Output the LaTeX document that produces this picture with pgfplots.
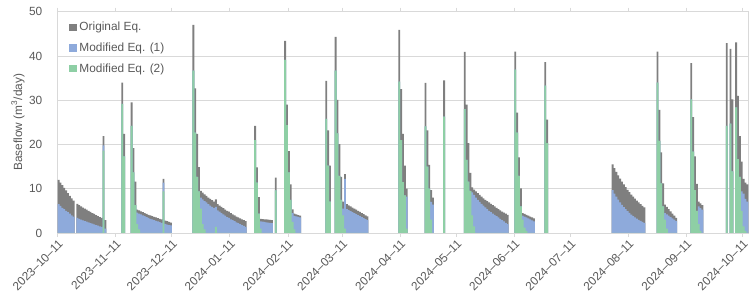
\documentclass[border=0pt]{standalone}
\usepackage{pgfplots}
\pgfplotsset{compat=1.18}
\usepackage{pgfplotstable}
\usepackage{fontspec}
\setmainfont{Liberation Sans}
\definecolor{cgray}{HTML}{7F7F7F}
\definecolor{cblue}{HTML}{8EAADB}
\definecolor{cgreen}{HTML}{8ECFA5}
\definecolor{ctext}{HTML}{595959}
\definecolor{cgrid}{HTML}{D9D9D9}
\pgfplotstableread{
d G B R
0 12.0 6.5 0
1 11.4 6.1 0
2 10.8 5.7 0
3 10.2 5.4 0
4 9.6 5.0 0
5 9.0 4.7 0
6 8.4 4.4 0
7 7.8 4.0 0
8 7.3 3.7 0
10 6.6 3.4 0
11 6.3 3.2 0
12 6.0 3.0 0
13 5.75 2.85 0
14 5.5 2.7 0
15 5.25 2.55 0
16 5.0 2.4 0
17 4.75 2.25 0
18 4.5 2.1 0
19 4.3 1.95 0
20 4.05 1.8 0
21 3.8 1.65 0
22 3.6 1.5 0
23 3.4 1.35 0
24 21.9 19.8 18.6
25 2.9 1.0 0
34 34.0 29.2 29.2
35 22.4 17.3 17.3
39 29.5 24.2 24.2
40 19.2 13.7 13.7
41 11.6 6.3 6.3
42 5.3 4.6 2.0
43 5.1 4.4 0.8
44 4.9 4.2 0
45 4.7 4.0 0
46 4.5 3.8 0
47 4.3 3.6 0
48 4.1 3.4 0
49 3.95 3.2 0
50 3.8 3.05 0
51 3.65 2.9 0
52 3.5 2.75 0
53 3.35 2.6 0
54 3.2 2.45 0
55 3.05 2.3 0
56 12.2 11.4 9.4
57 2.8 2.05 0
58 2.65 1.9 0
59 2.5 1.8 0
60 2.35 1.7 0
72 47.0 36.7 36.7
73 32.7 22.7 22.7
74 22.4 12.7 12.7
75 14.9 9.4 9.4
76 9.5 8.0 5.5
77 9.1 7.6 2.0
78 8.7 7.2 0.8
79 8.4 6.9 0
80 8.0 6.5 0
81 7.7 6.2 0
82 7.4 5.9 0
83 7.1 5.6 0
84 7.6 5.9 1.4
85 6.5 5.1 0
86 6.2 4.8 0
87 5.9 4.5 0
88 5.6 4.2 0
89 5.3 3.9 0
90 5.0 3.6 0
91 4.8 3.4 0
92 4.5 3.1 0
93 4.2 2.9 0
94 4.0 2.7 0
95 3.7 2.4 0
96 3.5 2.2 0
97 3.3 2.0 0
98 3.1 1.8 0
99 2.9 1.6 0
100 2.7 1.4 0
105 24.2 21.0 21.0
106 14.8 11.4 11.4
107 8.1 4.4 4.4
108 3.2 2.6 1.0
109 3.15 2.55 0
110 3.1 2.5 0
111 3.05 2.4 0
112 3.0 2.35 0
113 2.95 2.3 0
114 2.9 2.2 0
116 12.5 9.6 9.6
121 43.4 39.1 39.1
122 29.0 24.4 24.4
123 18.5 13.7 13.7
124 11.0 7.5 7.5
125 5.35 4.5 2.5
126 4.4 3.85 0.8
127 4.2 3.75 0
128 4.05 3.65 0
129 3.9 3.55 0
143 34.4 25.8 25.8
144 23.2 15.2 15.2
145 15.2 7.1 7.1
148 44.3 36.7 36.7
149 30.1 22.5 22.5
150 20.1 12.9 12.9
151 12.7 7.5 7.5
152 7.1 5.5 4.0
153 13.3 12.2 1.0
154 6.5 5.4 0
155 6.25 5.18 0
156 6.0 4.95 0
157 5.75 4.73 0
158 5.5 4.5 0
159 5.25 4.28 0
160 5.0 4.05 0
161 4.75 3.83 0
162 4.5 3.6 0
163 4.25 3.38 0
164 4.0 3.15 0
165 3.75 2.9 0
182 45.9 34.2 34.2
183 32.5 21.0 21.0
184 22.4 11.5 11.5
185 15.2 8.5 8.5
186 10.0 8.2 1.0
196 33.9 24.1 24.1
197 23.2 15.0 15.0
198 15.4 10.0 10.0
199 9.7 7.0 3.0
200 8.0 6.4 0
206 34.5 26.3 26.3
217 40.9 28.0 28.0
218 29.0 16.5 16.5
219 20.3 11.6 11.6
220 13.6 9.5 9.5
221 10.3 9.2 4.0
222 9.8 8.6 1.5
223 9.4 8.0 0
224 9.0 7.5 0
225 8.6 7.0 0
226 8.2 6.6 0
227 7.8 6.2 0
228 7.5 5.8 0
229 7.2 5.4 0
230 6.9 5.0 0
231 6.6 4.7 0
232 6.3 4.4 0
233 6.0 4.1 0
234 5.7 3.8 0
235 5.4 3.5 0
236 5.1 3.2 0
237 4.8 2.9 0
238 4.6 2.6 0
239 4.35 2.3 0
240 4.1 2.0 0
244 41.0 36.9 36.9
245 27.2 22.7 22.7
246 17.1 12.9 12.9
247 10.1 6.0 6.0
248 4.5 3.9 3.0
249 4.3 3.7 1.2
250 4.1 3.5 0.5
251 3.9 3.3 0
252 3.7 3.1 0
253 3.5 2.85 0
254 3.3 2.6 0
260 38.6 33.3 33.3
261 25.6 20.3 20.3
296 15.5 9.7 0
297 14.63 8.91 0
298 13.81 8.19 0
299 13.03 7.53 0
300 12.3 6.92 0
301 11.61 6.36 0
302 10.96 5.84 0
303 10.34 5.37 0
304 9.76 4.93 0
305 9.21 4.53 0
306 8.69 4.17 0
307 8.21 3.83 0
308 7.74 3.52 0
309 7.31 3.23 0
310 6.9 2.97 0
311 6.51 2.73 0
312 6.14 2.51 0
313 5.8 2.3 0
320 41.0 34.0 34.0
321 27.8 20.8 20.8
322 18.2 11.2 11.2
323 11.2 6.0 6.0
324 6.4 4.5 3.0
325 5.9 4.2 1.0
326 5.4 3.9 0
327 4.9 3.6 0
328 4.4 3.3 0
329 3.9 3.0 0
330 3.4 2.7 0
338 38.4 30.2 30.2
339 26.2 18.4 18.4
340 17.3 9.7 9.7
341 11.1 5.0 5.0
342 7.1 6.0 2.0
343 6.7 5.6 0.5
344 6.3 5.3 0
357 42.9 24.2 24.2
359 41.6 24.7 24.7
360 30.2 13.9 13.9
362 43.1 28.4 28.4
363 31.0 16.7 16.7
364 21.9 12.7 12.7
365 16.1 9.4 5.0
366 12.2 8.9 1.5
367 11.4 7.7 0.5
368 11.0 7.1 0
}\data
\begin{document}
\begin{tikzpicture}
\begin{axis}[
  scale only axis, width=518.1pt, height=166pt,
  xmin=0, xmax=369, ymin=0, ymax=50,
  ybar, bar width=1,
  axis line style={cgrid},
  ytick={0,10,...,50},
  ymajorgrids, grid style={cgrid, line width=0.6pt},
  ytick style={draw=none},
  xtick={0,31,61,92,123,152,183,213,244,274,305,336,366},
  xticklabels={2023--10--11,2023--11--11,2023--12--11,2024--01--11,2024--02--11,2024--03--11,2024--04--11,2024--05--11,2024--06--11,2024--07--11,2024--08--11,2024--09--11,2024--10--11},
  xtick style={cgrid, line width=0.6pt},
  tick align=outside, major tick length=3pt,
  xticklabel style={rotate=45, anchor=north east, inner sep=1pt, font=\fontsize{8.9}{10}\selectfont, text=ctext},
  yticklabel style={font=\fontsize{8.9}{10}\selectfont, text=ctext, xshift=-5pt},
  /pgf/number format/assume math mode=true,
  ylabel={Baseflow (m\textsuperscript{3}/day)},
  ylabel style={at={(rel axis cs:0,0.5)}, anchor=center, yshift=29.8pt, font=\fontsize{8.9}{10}\selectfont, text=ctext},
  legend image code/.code={\fill[#1] (0pt,-2.8pt) rectangle (5.6pt,2.8pt);},
  legend style={at={(rel axis cs:0,1)}, anchor=north west, xshift=7.5pt, yshift=-4.5pt, draw=none, fill=none, font=\fontsize{8.9}{10}\selectfont, text=ctext, row sep=3.6pt, inner sep=1pt},
  legend cell align=left,
  clip=true,
]
\addplot[fill=cgray, draw=none, bar shift=0pt] table[x expr=\thisrow{d}+0.5, y=G] {\data};
\addplot[fill=cblue, draw=none, bar shift=0pt] table[x expr=\thisrow{d}+0.5, y=B] {\data};
\addplot[fill=cgreen, draw=none, bar shift=0pt] table[x expr=\thisrow{d}+0.5, y=R] {\data};
\legend{Original Eq., Modified Eq. (1), Modified Eq. (2)}
\coordinate (SW) at (rel axis cs:0,0);
\coordinate (NE) at (rel axis cs:1,1);
\end{axis}
\pgfresetboundingbox
\path ([xshift=-43.3pt,yshift=-55.5pt]SW) rectangle ([xshift=5.8pt,yshift=8.8pt]NE);
\end{tikzpicture}
\end{document}
